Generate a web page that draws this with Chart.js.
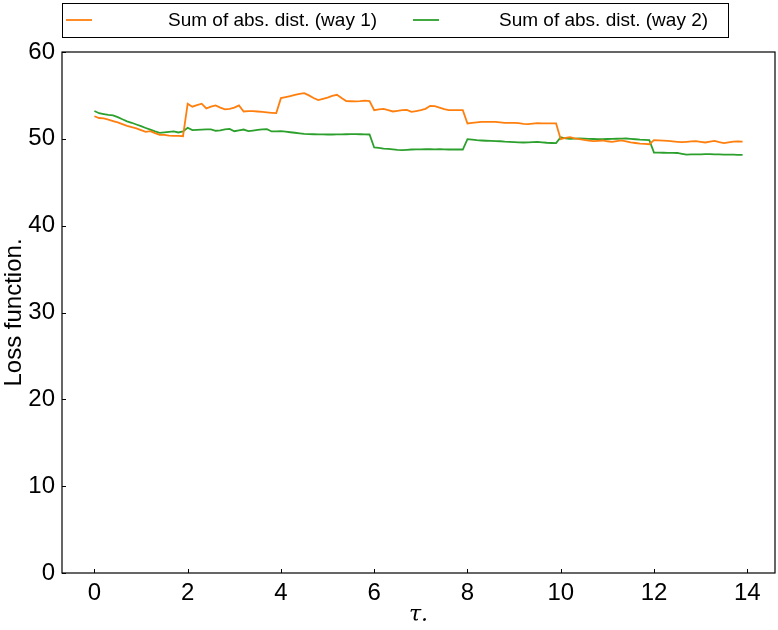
<!DOCTYPE html>
<html>
<head>
<meta charset="utf-8">
<script src="https://cdn.jsdelivr.net/npm/chart.js@4.4.0/dist/chart.umd.min.js"></script>
<style>
  html, body { margin: 0; padding: 0; background: #fff; }
  #wrap { width: 778px; height: 630px; }
</style>
</head>
<body>
<div id="wrap"><canvas id="lossChart"></canvas></div>
<script>
// loss function, one value per 0.1 of tau (0 .. 13.9)
const way1 = [
  52.6, 52.4, 52.35, 52.2, 52.05, 51.9, 51.7, 51.5, 51.35, 51.2,
  51.0, 50.8, 50.88, 50.65, 50.45, 50.46, 50.38, 50.35, 50.33, 50.3,
  54.05, 53.7, 53.88, 54.05, 53.5, 53.7, 53.85, 53.6, 53.4, 53.45,
  53.6, 53.85, 53.15, 53.18, 53.2, 53.15, 53.1, 53.05, 53.0, 52.96,
  54.69, 54.8, 54.92, 55.05, 55.18, 55.27, 55.0, 54.7, 54.46, 54.6,
  54.75, 54.95, 55.07, 54.7, 54.35, 54.33, 54.32, 54.35, 54.4, 54.35,
  53.3, 53.38, 53.45, 53.3, 53.15, 53.22, 53.3, 53.34, 53.11, 53.2,
  53.3, 53.45, 53.8, 53.77, 53.6, 53.42, 53.3, 53.3, 53.3, 53.3,
  51.77, 51.85, 51.9, 51.95, 51.96, 51.96, 51.96, 51.9, 51.84, 51.84,
  51.84, 51.8, 51.72, 51.69, 51.75, 51.8, 51.78, 51.77, 51.77, 51.77,
  49.96, 50.1, 50.19, 50.05, 49.96, 49.88, 49.8, 49.73, 49.77, 49.81,
  49.72, 49.65, 49.73, 49.81, 49.7, 49.6, 49.52, 49.45, 49.42, 49.38,
  49.85, 49.82, 49.79, 49.76, 49.7, 49.65, 49.61, 49.66, 49.71, 49.73,
  49.65, 49.58, 49.68, 49.77, 49.62, 49.5, 49.6, 49.69, 49.7, 49.69
];
const way2 = [
  53.2, 52.95, 52.85, 52.75, 52.69, 52.5, 52.25, 52.02, 51.85, 51.65,
  51.46, 51.25, 51.05, 50.85, 50.69, 50.74, 50.8, 50.85, 50.73, 50.85,
  51.27, 51.0, 51.03, 51.07, 51.1, 51.08, 50.93, 50.98, 51.1, 51.15,
  50.88, 50.98, 51.07, 50.88, 50.95, 51.02, 51.08, 51.11, 50.85, 50.87,
  50.88, 50.82, 50.76, 50.7, 50.63, 50.57, 50.54, 50.53, 50.52, 50.51,
  50.5, 50.5, 50.51, 50.52, 50.53, 50.54, 50.54, 50.53, 50.52, 50.5,
  49.0, 48.95, 48.88, 48.84, 48.78, 48.72, 48.69, 48.73, 48.77, 48.78,
  48.79, 48.8, 48.8, 48.79, 48.82, 48.78, 48.77, 48.79, 48.77, 48.77,
  49.96, 49.9, 49.84, 49.81, 49.78, 49.76, 49.74, 49.72, 49.67, 49.64,
  49.62, 49.6, 49.58, 49.6, 49.63, 49.65, 49.6, 49.55, 49.52, 49.5,
  50.19, 50.05, 50.0, 50.02, 50.04, 50.02, 50.0, 49.98, 49.96, 49.97,
  49.98, 50.0, 50.01, 50.02, 50.04, 50.0, 49.95, 49.9, 49.87, 49.85,
  48.42, 48.41, 48.4, 48.39, 48.38, 48.37, 48.28, 48.19, 48.2, 48.21,
  48.22, 48.23, 48.23, 48.22, 48.2, 48.19, 48.18, 48.17, 48.16, 48.15
];
const tauStep = 0.1;
const tau = way1.map((_, i) => +(i * tauStep).toFixed(1));

const seriesLabels = ["Sum of abs. dist. (way 1)", "Sum of abs. dist. (way 2)"];
const xTicks = [0, 2, 4, 6, 8, 10, 12, 14];
const yTicks = [0, 10, 20, 30, 40, 50, 60];

const FONT = "'Liberation Sans', Arial, sans-serif";

// matplotlib-ish frame: full box and inward ticks
const framePlugin = {
  id: "frame",
  afterDraw(chart) {
    const { ctx, chartArea: a, scales } = chart;
    ctx.save();
    ctx.strokeStyle = "#000";
    ctx.lineWidth = 1.2;
    ctx.strokeRect(a.left, a.top, a.right - a.left, a.bottom - a.top);
    ctx.lineWidth = 1;
    ctx.beginPath();
    xTicks.forEach(v => {
      const x = Math.round(scales.x.getPixelForValue(v)) + 0.5;
      ctx.moveTo(x, a.bottom);
      ctx.lineTo(x, a.bottom - 4);
    });
    yTicks.forEach(v => {
      const y = Math.round(scales.y.getPixelForValue(v)) + 0.5;
      ctx.moveTo(a.left, y);
      ctx.lineTo(a.left + 4, y);
    });
    ctx.stroke();
    ctx.restore();
  }
};

// legend box on top, spread across like mode="expand"
const legendPlugin = {
  id: "boxLegend",
  afterDraw(chart) {
    const { ctx } = chart;
    const left = 62, right = 728, top = 3, bottom = 37;
    ctx.save();
    ctx.strokeStyle = "#000";
    ctx.lineWidth = 1;
    ctx.strokeRect(left + 0.5, top + 0.5, right - left, bottom - top);
    ctx.font = "19px " + FONT;
    ctx.textBaseline = "middle";
    const cy = (top + bottom) / 2;
    const items = [
      { lx: 66, tx: 168 },
      { lx: 413, tx: 499 }
    ];
    chart.data.datasets.forEach((ds, i) => {
      const it = items[i];
      ctx.strokeStyle = ds.borderColor;
      ctx.lineWidth = 1.8;
      ctx.beginPath();
      ctx.moveTo(it.lx, cy);
      ctx.lineTo(it.lx + 26, cy);
      ctx.stroke();
      ctx.fillStyle = "#000";
      ctx.textAlign = "left";
      ctx.fillText(ds.label, it.tx, cy + 1);
    });
    ctx.restore();
  }
};

new Chart(document.getElementById("lossChart"), {
  type: "line",
  data: {
    datasets: [
      {
        label: seriesLabels[0],
        data: tau.map((t, i) => ({ x: t, y: way1[i] })),
        borderColor: "#ff7f0e",
        borderWidth: 1.8,
        pointRadius: 0,
        tension: 0
      },
      {
        label: seriesLabels[1],
        data: tau.map((t, i) => ({ x: t, y: way2[i] })),
        borderColor: "#2ca02c",
        borderWidth: 1.8,
        pointRadius: 0,
        tension: 0
      }
    ]
  },
  options: {
    responsive: true,
    maintainAspectRatio: false,
    animation: false,
    events: [],
    layout: { padding: { top: 52, right: 3, left: 0, bottom: 0 } },
    plugins: {
      legend: { display: false },
      tooltip: { enabled: false }
    },
    scales: {
      x: {
        type: "linear",
        min: -0.695,
        max: 14.595,
        afterBuildTicks: s => { s.ticks = xTicks.map(v => ({ value: v })); },
        afterFit: s => { s.height = 57; },
        grid: { display: false, drawTicks: false },
        border: { display: false },
        ticks: {
          color: "#000",
          padding: 6,
          font: { family: FONT, size: 24 }
        },
        title: {
          display: true,
          text: "τ.",
          color: "#000",
          padding: { top: 0, bottom: 2 },
          font: { family: "'DejaVu Serif', serif", size: 22, style: "italic" }
        }
      },
      y: {
        min: 0,
        max: 60,
        afterBuildTicks: s => { s.ticks = yTicks.map(v => ({ value: v })); },
        afterFit: s => { s.width = 62; },
        grid: { display: false, drawTicks: false },
        border: { display: false },
        ticks: {
          color: "#000",
          padding: 7,
          font: { family: FONT, size: 24 }
        },
        title: {
          display: true,
          text: "Loss function.",
          color: "#000",
          padding: { top: 0, bottom: 0 },
          font: { family: FONT, size: 24 }
        }
      }
    }
  },
  plugins: [framePlugin, legendPlugin]
});
</script>
</body>
</html>
